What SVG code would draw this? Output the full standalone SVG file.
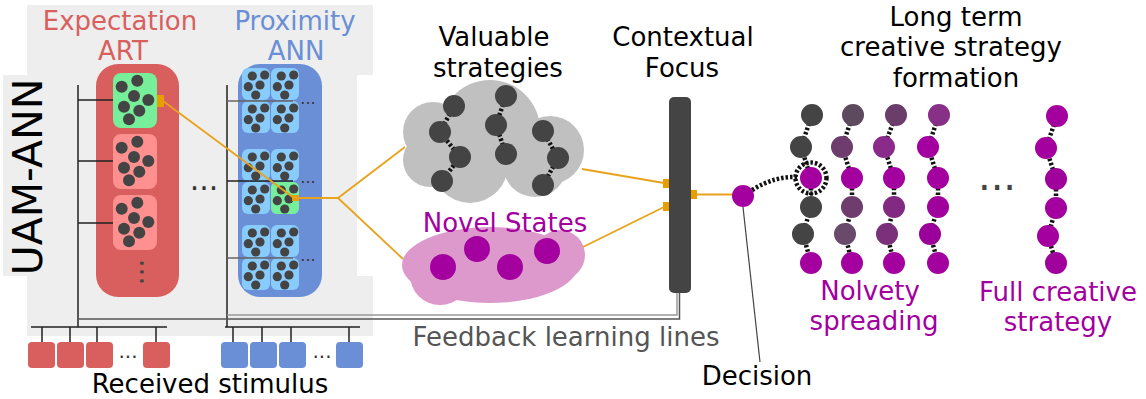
<svg xmlns="http://www.w3.org/2000/svg" width="1146" height="399" viewBox="0 0 1146 399">
  <style>
    text { font-family: "DejaVu Sans", "Liberation Sans", sans-serif; font-size: 26px; text-anchor: middle; }
    .red { fill: #d95f5f; }
    .blue { fill: #6a8fd6; }
    .purple { fill: #a3009f; }
    .dark { fill: #444444; }
    .tree { stroke: #222; stroke-width: 1.5; fill: none; }
    .treeGray { stroke: #666; stroke-width: 1.5; fill: none; }
    .orange { stroke: #e9a21b; stroke-width: 1.8; fill: none; }
    .port { fill: #e69e00; }
    .link { stroke: #111; stroke-width: 4.5; stroke-dasharray: 2.5 2; fill: none; }
    .dots { fill: #333; }
  </style>
  <defs>
    <!-- one ART category unit: seven member dots -->
    <g id="artDots" fill="#444">
      <circle cx="8.7" cy="13.7" r="6"/>
      <circle cx="24.3" cy="7.7" r="6"/>
      <circle cx="21" cy="23" r="6"/>
      <circle cx="35.3" cy="27" r="6"/>
      <circle cx="11" cy="33.7" r="6"/>
      <circle cx="26.3" cy="37.7" r="6"/>
      <circle cx="16" cy="46.3" r="6"/>
    </g>
    <!-- one ANN cell: five member dots -->
    <g id="annDots" fill="#444">
      <circle cx="10.3" cy="8" r="4.6"/>
      <circle cx="22.7" cy="7" r="4.6"/>
      <circle cx="6.3" cy="18.7" r="4.6"/>
      <circle cx="18" cy="17" r="4.6"/>
      <circle cx="13.7" cy="27" r="4.6"/>
    </g>
    <g id="annCell">
      <rect x="0" y="0" width="28" height="32" rx="6" fill="#88ccfd"/>
      <use href="#annDots"/>
    </g>
    <g id="annCellOn">
      <rect x="0" y="0" width="28" height="32" rx="6" fill="#77ee99"/>
      <use href="#annDots"/>
    </g>
    <g id="annBlock">
      <use href="#annCell" x="0" y="0"/>
      <use href="#annCell" x="29" y="0"/>
      <use href="#annCell" x="0" y="33"/>
      <use href="#annCell" x="29" y="33"/>
    </g>
  </defs>

  <!-- UAM-ANN panel -->
  <g id="panel">
    <rect x="27" y="5" width="346" height="331" fill="#eeeeee"/>
    <rect x="3" y="75" width="30" height="201" fill="#eeeeee"/>
    <rect x="357" y="75" width="16" height="201" fill="#ffffff"/>
    <text transform="translate(42,177) rotate(-90)" style="font-size:41px" fill="#000">UAM-ANN</text>
  </g>

  <!-- Expectation ART -->
  <g id="art">
    <text class="red" x="120" y="30">Expectation</text>
    <text class="red" x="123" y="60">ART</text>
    <rect x="96" y="64" width="83" height="233" rx="22" fill="#d95f5f"/>
    <rect x="113" y="73" width="44" height="55" rx="8" fill="#77ee99"/>
    <use href="#artDots" x="113" y="73"/>
    <rect x="113" y="134" width="44" height="55" rx="8" fill="#ff9090"/>
    <use href="#artDots" x="113" y="134"/>
    <rect x="113" y="195" width="44" height="55" rx="8" fill="#ff9090"/>
    <use href="#artDots" x="113" y="195"/>
    <text class="dark" transform="translate(140,272) rotate(90)" style="font-size:28px">...</text>
    <rect class="port" x="157" y="95" width="7" height="12"/>
  </g>

  <text id="between" class="dots" x="204" y="190" style="font-size:30px">...</text>

  <!-- Proximity ANN -->
  <g id="ann">
    <text class="blue" x="295" y="30">Proximity</text>
    <text class="blue" x="296" y="60">ANN</text>
    <rect x="238" y="64" width="84" height="233" rx="22" fill="#6a8fd6"/>
    <use href="#annBlock" x="242" y="68"/>
    <use href="#annBlock" x="242" y="149"/>
    <use href="#annCellOn" x="271" y="182"/>
    <use href="#annBlock" x="242" y="225"/>
    <text class="dots" x="308" y="104" style="font-size:16px">...</text>
    <text class="dots" x="308" y="183" style="font-size:16px">...</text>
    <text class="dots" x="308" y="261" style="font-size:16px">...</text>
    <rect class="port" x="292" y="195" width="7" height="6"/>
  </g>

  <!-- received stimulus inputs -->
  <g id="stimulus">
    <rect x="28" y="342" width="27" height="26" rx="4" fill="#d95f5f"/>
    <rect x="57" y="342" width="27" height="26" rx="4" fill="#d95f5f"/>
    <rect x="86" y="342" width="27" height="26" rx="4" fill="#d95f5f"/>
    <rect x="143" y="342" width="27" height="26" rx="4" fill="#d95f5f"/>
    <text class="dots" x="128" y="358" style="font-size:20px">...</text>
    <rect x="221" y="342" width="27" height="26" rx="4" fill="#6a8fd6"/>
    <rect x="250" y="342" width="27" height="26" rx="4" fill="#6a8fd6"/>
    <rect x="279" y="342" width="27" height="26" rx="4" fill="#6a8fd6"/>
    <rect x="336" y="342" width="27" height="26" rx="4" fill="#6a8fd6"/>
    <text class="dots" x="322" y="358" style="font-size:20px">...</text>
    <text x="210" y="393" fill="#000">Received stimulus</text>
  </g>

  <!-- Valuable strategies -->
  <g id="valuable">
    <text x="494" y="46" fill="#000">Valuable</text>
    <text x="498" y="77" fill="#000">strategies</text>
    <g fill="#c0c0c0">
      <circle cx="433" cy="132" r="30"/>
      <circle cx="490" cy="130" r="50"/>
      <circle cx="550" cy="150" r="34"/>
      <circle cx="470" cy="165" r="38"/>
      <circle cx="430" cy="160" r="27"/>
      <circle cx="535" cy="165" r="32"/>
    </g>
    <path class="link" d="M454,106 L440,132 L460,157 L442,181"/>
    <path class="link" d="M506,96 L496,125 L506,154"/>
    <path class="link" d="M543,131 L558,158 L543,185"/>
    <g fill="#444">
      <circle cx="454" cy="106" r="11"/>
      <circle cx="440" cy="132" r="11"/>
      <circle cx="460" cy="157" r="11"/>
      <circle cx="442" cy="181" r="11"/>
      <circle cx="506" cy="96" r="11"/>
      <circle cx="496" cy="125" r="11"/>
      <circle cx="506" cy="154" r="11"/>
      <circle cx="543" cy="131" r="11"/>
      <circle cx="558" cy="158" r="11"/>
      <circle cx="543" cy="185" r="11"/>
    </g>
  </g>

  <!-- Novel states -->
  <g id="novel">
    <g fill="#dd99cc">
      <ellipse cx="490" cy="265" rx="88" ry="38"/>
      <circle cx="440" cy="275" r="30"/>
      <circle cx="560" cy="255" r="25"/>
    </g>
    <text class="purple" x="505" y="232">Novel States</text>
    <g fill="#a3009f">
      <circle cx="443" cy="267" r="13"/>
      <circle cx="477" cy="249" r="13"/>
      <circle cx="510" cy="267" r="13"/>
      <circle cx="547" cy="251" r="13"/>
    </g>
  </g>

  <!-- Contextual focus -->
  <g id="focus">
    <text x="683" y="46" fill="#000">Contextual</text>
    <text x="682" y="77" fill="#000">Focus</text>
    <rect x="669" y="97" width="22" height="196" rx="5" fill="#444"/>
    <rect class="port" x="663" y="179" width="6" height="9"/>
    <rect class="port" x="663" y="202" width="6" height="9"/>
    <rect class="port" x="691" y="190" width="6" height="9"/>
  </g>

  <!-- connectors -->
  <g id="connectors">
    <path class="tree" d="M78,85 V327"/>
    <path class="tree" d="M78,100 H113 M78,161 H113 M78,223 H113"/>
    <path class="tree" d="M227,85 V327"/>
    <path class="treeGray" d="M227,101 H293"/>
    <path class="tree" d="M227,181 H293"/>
    <path class="treeGray" d="M227,258 H293"/>
    <path class="tree" d="M31,327 H167 M42,327 V342 M70,327 V342 M97,327 V342 M156,327 V342"/>
    <path class="tree" d="M225,327 H360 M233,327 V342 M262,327 V342 M291,327 V342 M349,327 V342"/>
    <!-- feedback learning lines -->
    <path d="M677,293 V315 H227" stroke="#999" stroke-width="1.5" fill="none"/>
    <path d="M679.5,293 V319 H78" stroke="#555" stroke-width="1.5" fill="none"/>
    <text x="566" y="346" fill="#555">Feedback learning lines</text>
    <!-- orange signal paths -->
    <path class="orange" d="M163,101 L294,198 H338 L405,147 M338,198 L403,259"/>
    <path class="orange" d="M582,169 L664,183 M583,247 L664,207"/>
    <path class="orange" d="M697,194.5 H733"/>
    <!-- decision callout -->
    <path d="M743,207 L760,362" stroke="#444" stroke-width="1.2" fill="none"/>
    <path class="link" d="M752,190 Q775,176 797,177"/>
  </g>

  <!-- decision -->
  <g id="decision">
    <circle cx="743" cy="196" r="11" fill="#a3009f"/>
    <text x="757" y="385" fill="#000">Decision</text>
  </g>

  <!-- long term creative strategy formation -->
  <g id="formation">
    <text x="956" y="26" fill="#000">Long term</text>
    <text x="951" y="56" fill="#000">creative strategy</text>
    <text x="956" y="87" fill="#000">formation</text>
    <path class="link" d="M812,115 L801,147 L811,178 L811,207 L803,234 L811,263"/>
    <path class="link" d="M853,115 L842,147 L852,178 L852,207 L845,234 L852,263"/>
    <path class="link" d="M896,115 L884,147 L894,178 L894,207 L887,234 L894,263"/>
    <path class="link" d="M939,115 L928,147 L938,178 L938,207 L930,234 L938,263"/>
    <path class="link" d="M1057,116 L1046,148 L1056,179 L1056,208 L1048,236 L1056,263"/>
    <circle cx="811" cy="178" r="15.5" fill="none" stroke="#111" stroke-width="4.5" stroke-dasharray="2.5 2"/>
    <g>
      <circle cx="812" cy="115" r="11" fill="#444"/>
      <circle cx="801" cy="147" r="11" fill="#444"/>
      <circle cx="811" cy="178" r="11" fill="#a3009f"/>
      <circle cx="811" cy="207" r="11" fill="#444"/>
      <circle cx="803" cy="234" r="11" fill="#444"/>
      <circle cx="811" cy="263" r="11" fill="#a3009f"/>

      <circle cx="853" cy="115" r="11" fill="#5e4a5e"/>
      <circle cx="842" cy="147" r="11" fill="#6e3d6e"/>
      <circle cx="852" cy="178" r="11" fill="#a3009f"/>
      <circle cx="852" cy="207" r="11" fill="#6e3d6e"/>
      <circle cx="845" cy="234" r="11" fill="#6a4a6a"/>
      <circle cx="852" cy="263" r="11" fill="#a3009f"/>

      <circle cx="896" cy="115" r="11" fill="#6b3d6b"/>
      <circle cx="884" cy="147" r="11" fill="#8a2a8a"/>
      <circle cx="894" cy="178" r="11" fill="#a3009f"/>
      <circle cx="894" cy="207" r="11" fill="#822a82"/>
      <circle cx="887" cy="234" r="11" fill="#7a307a"/>
      <circle cx="894" cy="263" r="11" fill="#a3009f"/>

      <circle cx="939" cy="115" r="11" fill="#883088"/>
      <circle cx="928" cy="147" r="11" fill="#a3009f"/>
      <circle cx="938" cy="178" r="11" fill="#a3009f"/>
      <circle cx="938" cy="207" r="11" fill="#a0009c"/>
      <circle cx="930" cy="234" r="11" fill="#9c009a"/>
      <circle cx="938" cy="263" r="11" fill="#a3009f"/>

      <circle cx="1057" cy="116" r="11" fill="#a3009f"/>
      <circle cx="1046" cy="148" r="11" fill="#a3009f"/>
      <circle cx="1056" cy="179" r="11" fill="#a0009c"/>
      <circle cx="1056" cy="208" r="11" fill="#a3009f"/>
      <circle cx="1048" cy="236" r="11" fill="#a3009f"/>
      <circle cx="1056" cy="263" r="11" fill="#a0009c"/>
    </g>
    <text class="dark" x="997" y="190" style="font-size:40px">...</text>
    <text class="purple" x="870" y="300">Nolvety</text>
    <text class="purple" x="874" y="330">spreading</text>
    <text class="purple" x="1058" y="301">Full creative</text>
    <text class="purple" x="1058" y="331">strategy</text>
  </g>
</svg>
